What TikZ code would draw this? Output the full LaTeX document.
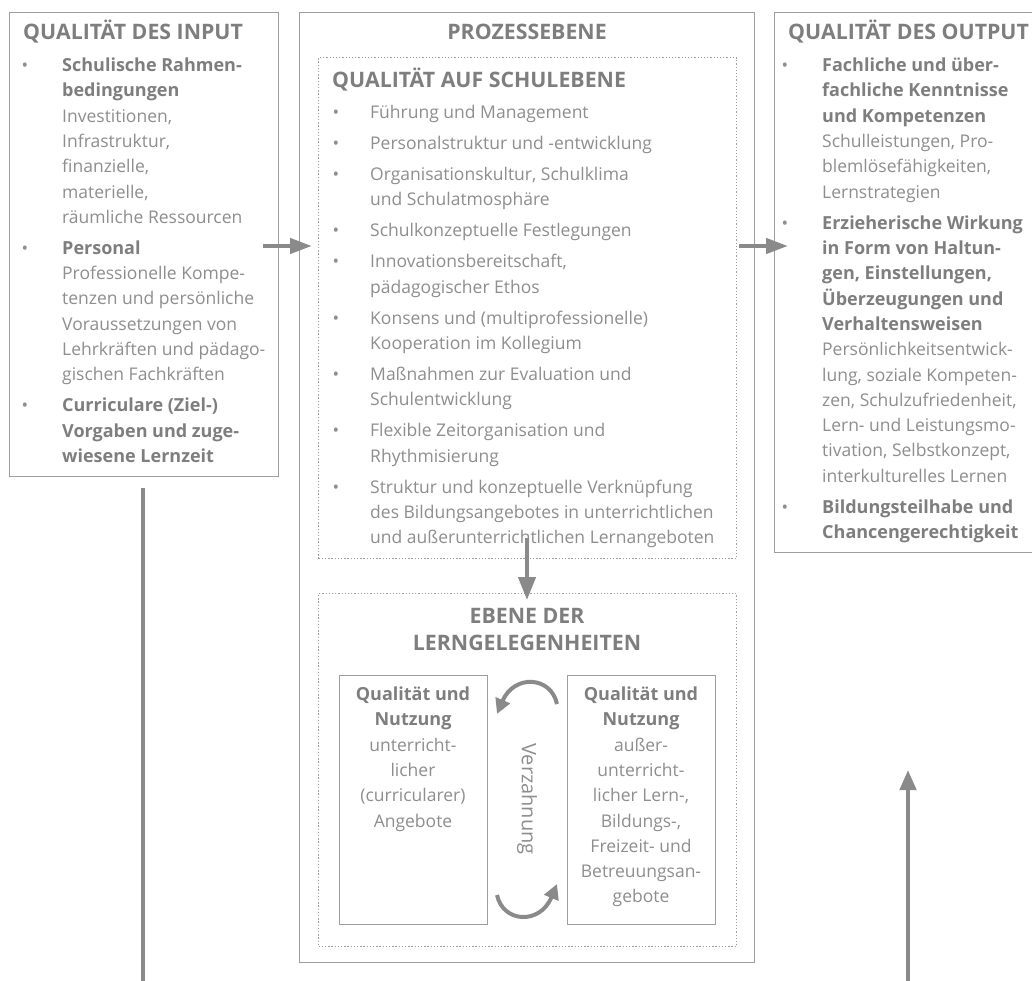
\documentclass[tikz,border=0pt]{standalone}
\usepackage{fontspec}
\setmainfont{Open Sans}
\usetikzlibrary{arrows.meta}
\definecolor{tgray}{HTML}{7E7E7E}
\definecolor{bgray}{HTML}{8E8E8E}
\definecolor{lgray}{HTML}{9E9E9E}
\definecolor{agray}{HTML}{8A8A8A}
\newcommand{\bodyfont}{\fontsize{17.5}{25.3}\selectfont}
\newcommand{\titlefont}{\fontsize{21.3}{27}\selectfont\bfseries}
\newcommand{\vzfont}{\fontsize{20}{24}\selectfont}
\newcommand{\mylines}[1]{\begin{tabular}[t]{@{}l@{}}#1\end{tabular}}
\newcommand{\mycent}[1]{\begin{tabular}[t]{@{}c@{}}#1\end{tabular}}
\newcommand{\bt}[1]{{\color{tgray}\fontsize{18}{25.3}\selectfont\bfseries #1}}
\begin{document}
\begin{tikzpicture}[x=1pt,y=-1pt,
  box/.style={draw=lgray, line width=1.3pt, inner sep=0pt, anchor=north west},
  dbox/.style={draw=lgray, line width=1.3pt, dash pattern=on 1.3pt off 1.9pt, inner sep=0pt, anchor=north west},
  ttl/.style={inner sep=0pt, anchor=base west, text=tgray, font=\titlefont},
  bul/.style={inner sep=0pt, anchor=base, text=bgray, font=\bodyfont},
  txt/.style={inner sep=0pt, anchor=base west, text=bgray, font=\bodyfont},
  ctxt/.style={inner sep=0pt, anchor=base, text=bgray, font=\bodyfont},
  arr/.style={draw=agray, line width=4.3pt, -{Triangle[length=22pt,width=15pt]}},
  carr/.style={draw=agray, line width=4pt, -{Triangle[length=15pt,width=15pt]}},
  vline/.style={draw=agray, line width=4.5pt}
]
\useasboundingbox (0,0) rectangle (1032,981);
\fill[white] (0,0) rectangle (1032,981);

% boxes
\node[box, minimum width=269pt, minimum height=464pt] (inbox) at (9,12) {};
\node[box, minimum width=455pt, minimum height=950pt] (proc) at (299,12) {};
\node[dbox, minimum width=418pt, minimum height=501pt] (schule) at (318,57) {};
\node[dbox, minimum width=418pt, minimum height=353pt] (lern) at (318,593) {};
\node[box, minimum width=148pt, minimum height=249pt] (ibl) at (339,675) {};
\node[box, minimum width=148pt, minimum height=249pt] (ibr) at (567,675) {};
\node[box, minimum width=262pt, minimum height=540pt] (outbox) at (774,12) {};

% titles
\node[ttl] (tin) at (23,40) {QUALITÄT DES INPUT};
\node[ttl, anchor=base] (tproc) at (527,40) {PROZESSEBENE};
\node[ttl] (tout) at (788,40) {QUALITÄT DES OUTPUT};
\node[ttl] (tschule) at (332,87.5) {QUALITÄT AUF SCHULEBENE};
\node[ttl, anchor=base] (tlern) at (527,623.5) {\mycent{EBENE DER\\LERNGELEGENHEITEN}};

% left list
\node[bul] (lb1) at (25,71.6) {•};
\node[txt] (lt1) at (62,71.6) {\mylines{\bt{Schulische Rahmen-}\\\bt{bedingungen}\\Investitionen,\\Infrastruktur,\\finanzielle,\\materielle,\\räumliche Ressourcen}};
\node[bul] (lb2) at (25,254.4) {•};
\node[txt] (lt2) at (62,254.4) {\mylines{\bt{Personal}\\Professionelle Kompe-\\tenzen und persönliche\\Voraussetzungen von\\Lehrkräften und pädago-\\gischen Fachkräften}};
\node[bul] (lb3) at (25,411.9) {•};
\node[txt] (lt3) at (62,411.9) {\mylines{\bt{Curriculare (Ziel-)}\\\bt{Vorgaben und zuge-}\\\bt{wiesene Lernzeit}}};

% center list
\node[bul] (cb1) at (336,118.5) {•};
\node[txt] (ct1) at (370,118.5) {Führung und Management};
\node[bul] (cb2) at (336,149.5) {•};
\node[txt] (ct2) at (370,149.5) {Personalstruktur und -entwicklung};
\node[bul] (cb3) at (336,180.5) {•};
\node[txt] (ct3) at (370,180.5) {\mylines{Organisationskultur, Schulklima\\und Schulatmosphäre}};
\node[bul] (cb4) at (336,236.8) {•};
\node[txt] (ct4) at (370,236.8) {Schulkonzeptuelle Festlegungen};
\node[bul] (cb5) at (336,267.8) {•};
\node[txt] (ct5) at (370,267.8) {\mylines{Innovationsbereitschaft,\\pädagogischer Ethos}};
\node[bul] (cb6) at (336,324.1) {•};
\node[txt] (ct6) at (370,324.1) {\mylines{Konsens und (multiprofessionelle)\\Kooperation im Kollegium}};
\node[bul] (cb7) at (336,380.4) {•};
\node[txt] (ct7) at (370,380.4) {\mylines{Maßnahmen zur Evaluation und\\Schulentwicklung}};
\node[bul] (cb8) at (336,436.7) {•};
\node[txt] (ct8) at (370,436.7) {\mylines{Flexible Zeitorganisation und\\Rhythmisierung}};
\node[bul] (cb9) at (336,493.0) {•};
\node[txt] (ct9) at (370,493.0) {\mylines{Struktur und konzeptuelle Verknüpfung\\des Bildungsangebotes in unterrichtlichen\\und außerunterrichtlichen Lernangeboten}};

% right list
\node[bul] (rb1) at (785,71.7) {•};
\node[txt] (rt1) at (822,71.7) {\mylines{\bt{Fachliche und über-}\\\bt{fachliche Kenntnisse}\\\bt{und Kompetenzen}\\Schulleistungen, Pro-\\blemlösefähigkeiten,\\Lernstrategien}};
\node[bul] (rb2) at (785,229.2) {•};
\node[txt] (rt2) at (822,229.2) {\mylines{\bt{Erzieherische Wirkung}\\\bt{in Form von Haltun-}\\\bt{gen, Einstellungen,}\\\bt{Überzeugungen und}\\\bt{Verhaltensweisen}\\Persönlichkeitsentwick-\\lung, soziale Kompeten-\\zen, Schulzufriedenheit,\\Lern- und Leistungsmo-\\tivation, Selbstkonzept,\\interkulturelles Lernen}};
\node[bul] (rb3) at (785,513.2) {•};
\node[txt] (rt3) at (822,513.2) {\mylines{\bt{Bildungsteilhabe und}\\\bt{Chancengerechtigkeit}}};

% inner boxes text
\node[ctxt] (ibltext) at (413,700.5) {\mycent{\bt{Qualität und}\\\bt{Nutzung}\\unterricht-\\licher\\(curricularer)\\Angebote}};
\node[ctxt] (ibrtext) at (641,700.5) {\mycent{\bt{Qualität und}\\\bt{Nutzung}\\außer-\\unterricht-\\licher Lern-,\\Bildungs-,\\Freizeit- und\\Betreuungsan-\\gebote}};
\node[inner sep=0pt, text=bgray, font=\vzfont, rotate=-90] (vz) at (527,799) {Verzahnung};

% arrows
\coordinate (a1s) at (263,246);
\coordinate (a1e) at (312,246);
\draw[arr] (a1s) -- (a1e);
\coordinate (a2s) at (739,246);
\coordinate (a2e) at (788,246);
\draw[arr] (a2s) -- (a2e);
\coordinate (a3s) at (527,538);
\coordinate (a3e) at (527,600);
\draw[arr, -{Triangle[length=23pt,width=17pt]}] (a3s) -- (a3e);
\coordinate (c1s) at (557,704);
\coordinate (c1e) at (497,714);
\draw[carr] (c1s) .. controls (551,676) and (514,674) .. (c1e);
\coordinate (c2s) at (497,895);
\coordinate (c2e) at (557,884);
\draw[carr] (c2s) .. controls (503,923) and (540,925) .. (c2e);
\coordinate (l1s) at (143,488);
\coordinate (l1e) at (143,981);
\draw[vline] (l1s) -- (l1e);
\coordinate (r1s) at (908,981);
\coordinate (r1e) at (908,770);
\draw[vline, -{Triangle[length=20pt,width=16pt]}] (r1s) -- (r1e);
\end{tikzpicture}
\end{document}
